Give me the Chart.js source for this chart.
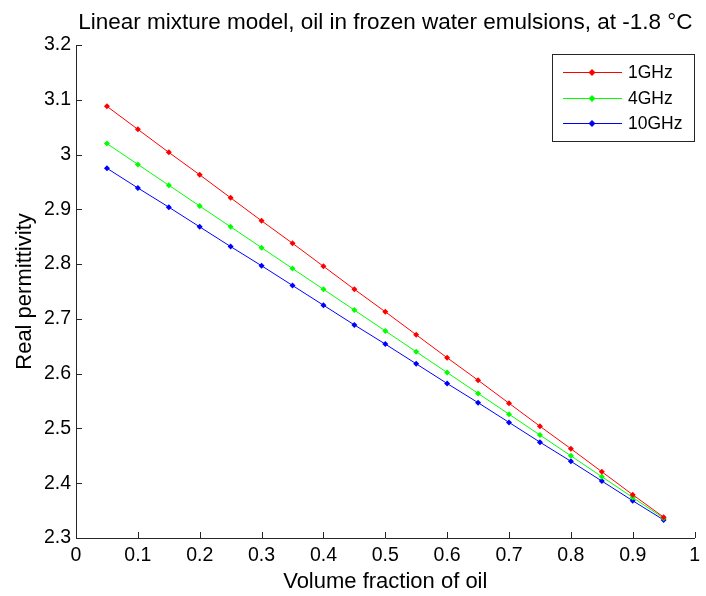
<!DOCTYPE html>
<html>
<head>
<meta charset="utf-8">
<script src="https://cdn.jsdelivr.net/npm/chart.js@4/dist/chart.umd.min.js"></script>
<style>
  html, body { margin: 0; padding: 0; background: #fff; }
  #wrap { width: 706px; height: 596px; }
</style>
</head>
<body>
<div id="wrap"><canvas id="chart" width="706" height="596"></canvas></div>
<script>
const volumeFraction = [0.05, 0.1, 0.15, 0.2, 0.25, 0.3, 0.35, 0.4, 0.45, 0.5,
  0.55, 0.6, 0.65, 0.7, 0.75, 0.8, 0.85, 0.9, 0.95];
const eps1GHz = [3.088, 3.046, 3.004, 2.963, 2.921, 2.879, 2.838, 2.796, 2.754, 2.713,
  2.671, 2.629, 2.588, 2.546, 2.504, 2.463, 2.421, 2.379, 2.338];
const eps4GHz = [3.020, 2.982, 2.944, 2.906, 2.868, 2.830, 2.792, 2.754, 2.716, 2.678,
  2.640, 2.602, 2.564, 2.526, 2.488, 2.450, 2.412, 2.374, 2.336];
const eps10GHz = [2.975, 2.939, 2.904, 2.868, 2.832, 2.797, 2.761, 2.725, 2.689, 2.654,
  2.618, 2.582, 2.547, 2.511, 2.475, 2.440, 2.404, 2.368, 2.333];
const seriesLabels = ['1GHz', '4GHz', '10GHz'];
const seriesColors = ['#ff0000', '#00ff00', '#0000ff'];

const FONT = 'Liberation Sans, Arial, Helvetica, sans-serif';
const AXIS = '#262626';

const toPoints = (ys) => ys.map((y, i) => ({ x: volumeFraction[i], y }));

const datasets = [eps1GHz, eps4GHz, eps10GHz].map((ys, i) => ({
  label: seriesLabels[i],
  data: toPoints(ys),
  showLine: true,
  borderColor: seriesColors[i],
  backgroundColor: seriesColors[i],
  borderWidth: 1,
  pointStyle: 'rectRot',
  pointRadius: 3,
  pointBorderWidth: 0,
}));

// inward tick marks, matlab style
const innerTicks = {
  id: 'innerTicks',
  afterDraw: (chart) => {
    const { ctx, chartArea } = chart;
    const xs = chart.scales.x;
    const ys = chart.scales.y;
    ctx.save();
    ctx.strokeStyle = AXIS;
    ctx.lineWidth = 1;
    ctx.beginPath();
    xs.ticks.forEach((t) => {
      const px = Math.round(xs.getPixelForValue(t.value)) + 0.5;
      ctx.moveTo(px, chartArea.bottom);
      ctx.lineTo(px, chartArea.bottom - 6);
    });
    ys.ticks.forEach((t) => {
      const py = Math.round(ys.getPixelForValue(t.value)) + 0.5;
      ctx.moveTo(chartArea.left, py);
      ctx.lineTo(chartArea.left + 6, py);
    });
    ctx.stroke();
    ctx.restore();
  },
};

const plotTitle = {
  id: 'plotTitle',
  afterDraw: (chart) => {
    const { ctx, chartArea } = chart;
    ctx.save();
    ctx.font = `22.5px ${FONT}`;
    ctx.fillStyle = '#000';
    ctx.textAlign = 'center';
    ctx.textBaseline = 'alphabetic';
    ctx.fillText('Linear mixture model, oil in frozen water emulsions, at -1.8 \u00B0C',
      (chartArea.left + chartArea.right) / 2, 29);
    ctx.restore();
  },
};

// boxed legend in the top right corner
const boxLegend = {
  id: 'boxLegend',
  afterDraw: (chart) => {
    const { ctx } = chart;
    const x0 = 552, y0 = 54, w = 142, h = 87;
    ctx.save();
    ctx.fillStyle = '#fff';
    ctx.fillRect(x0, y0, w, h);
    ctx.strokeStyle = AXIS;
    ctx.lineWidth = 1;
    ctx.strokeRect(x0 + 0.5, y0 + 0.5, w, h);
    ctx.font = `17.5px ${FONT}`;
    ctx.textBaseline = 'middle';
    chart.data.datasets.forEach((ds, i) => {
      const y = y0 + 18 + i * 25.5;
      const ly = Math.round(y) + 0.5;
      ctx.strokeStyle = ds.borderColor;
      ctx.beginPath();
      ctx.moveTo(x0 + 11, ly);
      ctx.lineTo(x0 + 70, ly);
      ctx.stroke();
      ctx.fillStyle = ds.backgroundColor;
      ctx.beginPath();
      ctx.moveTo(x0 + 40, ly - 3.5);
      ctx.lineTo(x0 + 43.5, ly);
      ctx.lineTo(x0 + 40, ly + 3.5);
      ctx.lineTo(x0 + 36.5, ly);
      ctx.closePath();
      ctx.fill();
      ctx.fillStyle = '#000';
      ctx.fillText(ds.label, x0 + 76, ly + 1);
    });
    ctx.restore();
  },
};

new Chart(document.getElementById('chart'), {
  type: 'scatter',
  data: { datasets },
  plugins: [innerTicks, plotTitle, boxLegend],
  options: {
    responsive: false,
    animation: false,
    layout: { padding: { top: 45, right: 3, left: 0, bottom: 0 } },
    plugins: {
      legend: { display: false },
      tooltip: { enabled: false },
    },
    scales: {
      x: {
        type: 'linear',
        min: 0,
        max: 1,
        afterFit: (scale) => { scale.height = 58; },
        ticks: {
          stepSize: 0.1,
          padding: 6,
          color: '#000',
          font: { family: FONT, size: 19.5 },
          callback: (v) => String(Number(v.toFixed(1))),
        },
        grid: { display: true, drawOnChartArea: false, drawTicks: false },
        border: { display: true, color: AXIS, width: 1 },
        title: {
          display: true,
          text: 'Volume fraction of oil',
          color: '#000',
          font: { family: FONT, size: 22 },
          padding: { top: 0, bottom: 1 },
        },
      },
      y: {
        type: 'linear',
        min: 2.3,
        max: 3.2,
        afterFit: (scale) => { scale.width = 76; },
        ticks: {
          stepSize: 0.1,
          padding: 5,
          color: '#000',
          font: { family: FONT, size: 19.5 },
          callback: (v) => String(Number(v.toFixed(1))),
        },
        grid: { display: true, drawOnChartArea: false, drawTicks: false },
        border: { display: true, color: AXIS, width: 1 },
        title: {
          display: true,
          text: 'Real permittivity',
          color: '#000',
          font: { family: FONT, size: 22 },
          padding: { top: 12, bottom: 0 },
        },
      },
    },
  },
});
</script>
</body>
</html>
